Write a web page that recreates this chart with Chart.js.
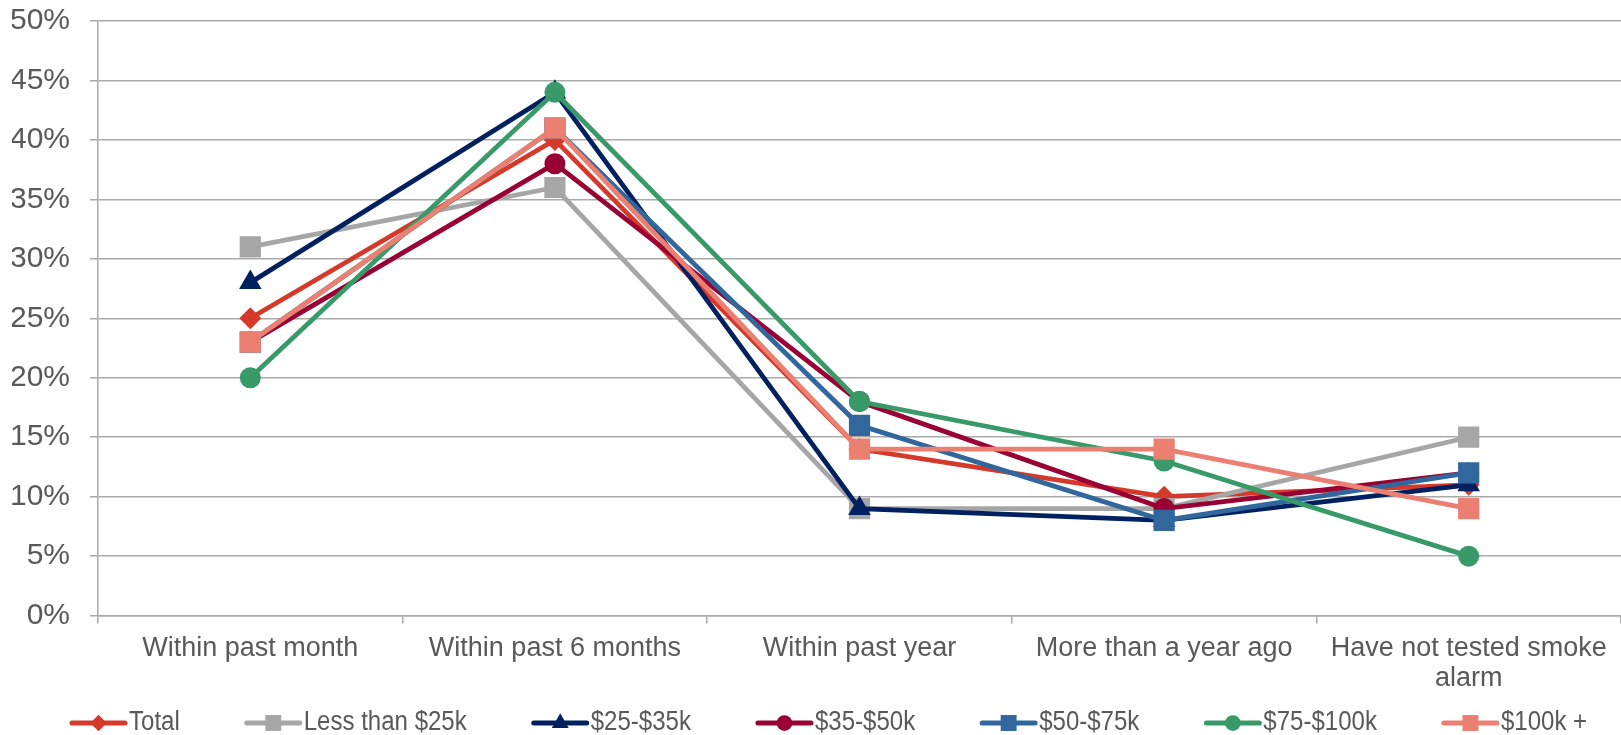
<!DOCTYPE html>
<html lang="en">
<head>
  <meta charset="UTF-8">
  <title>Smoke alarm last tested, by household income</title>
  <script src="https://cdn.jsdelivr.net/npm/chart.js"></script>
  <style>
    html, body { margin: 0; padding: 0; background: #ffffff; }
    canvas { display: block; }
  </style>
</head>
<body>
  <canvas id="smokeChart" width="1621" height="735"></canvas>

  <script>
    // categories and values (percent)
    const categories = ['Within past month', 'Within past 6 months', 'Within past year',
                        'More than a year ago', ['Have not tested smoke', 'alarm']];
    const total       = [25, 40, 14, 10, 11];
    const under25k    = [31, 36, 9, 9, 15];
    const inc25to35k  = [28, 44, 9, 8, 11];
    const inc35to50k  = [23, 38, 18, 9, 12];
    const inc50to75k  = [23, 41, 16, 8, 12];
    const inc75to100k = [20, 44, 18, 13, 5];
    const over100k    = [23, 41, 14, 14, 9];
    const yTicks = [0, 5, 10, 15, 20, 25, 30, 35, 40, 45, 50];

    const series = [
      { label: 'Total',          data: total,       color: '#D5392A', style: 'rectRot',  r: 11 },
      { label: 'Less than $25k', data: under25k,    color: '#A6A6A6', style: 'rect',     r: 15 },
      { label: '$25-$35k',       data: inc25to35k,  color: '#002060', style: 'triangle', r: 13 },
      { label: '$35-$50k',       data: inc35to50k,  color: '#990033', style: 'circle',   r: 10.5 },
      { label: '$50-$75k',       data: inc50to75k,  color: '#31679D', style: 'rect',     r: 15 },
      { label: '$75-$100k',      data: inc75to100k, color: '#389A68', style: 'circle',   r: 10.5 },
      { label: '$100k +',        data: over100k,    color: '#EA7F72', style: 'rect',     r: 15 }
    ];

    const gridGray = '#A9A9A9';
    const textGray = '#595959';

    function drawMarker(ctx, style, x, y, r, color) {
      ctx.fillStyle = color;
      ctx.beginPath();
      if (style === 'circle') {
        ctx.arc(x, y, r, 0, Math.PI * 2);
      } else if (style === 'rect') {
        const h = r * Math.SQRT1_2;
        ctx.rect(x - h, y - h, h * 2, h * 2);
      } else if (style === 'rectRot') {
        ctx.moveTo(x, y - r); ctx.lineTo(x + r, y); ctx.lineTo(x, y + r); ctx.lineTo(x - r, y);
      } else if (style === 'triangle') {
        ctx.moveTo(x, y - r);
        ctx.lineTo(x + r * 0.866, y + r * 0.5);
        ctx.lineTo(x - r * 0.866, y + r * 0.5);
      }
      ctx.closePath();
      ctx.fill();
    }

    // legend with line + marker, like the office chart (text squeezed like a narrow font)
    const lineLegend = {
      id: 'lineLegend',
      afterDraw(chart) {
        const ctx = chart.ctx;
        const lineLen = 57, textGap = 2, itemGap = 65, y = 723, squeeze = 0.89;
        ctx.save();
        ctx.font = '27px "Liberation Sans", Arial, sans-serif';
        ctx.textBaseline = 'middle';
        let x = 70;
        series.forEach(s => {
          ctx.strokeStyle = s.color;
          ctx.lineWidth = 5;
          ctx.lineCap = 'round';
          ctx.beginPath();
          ctx.moveTo(x + 2, y);
          ctx.lineTo(x + lineLen - 2, y);
          ctx.stroke();
          drawMarker(ctx, s.style, x + lineLen / 2, y, s.r * 0.75, s.color);
          const tx = x + lineLen + textGap;
          const w = ctx.measureText(s.label).width * squeeze;
          ctx.save();
          ctx.translate(tx, y);
          ctx.scale(squeeze, 1);
          ctx.fillStyle = textGray;
          ctx.fillText(s.label, 0, 0);
          ctx.restore();
          x = tx + w + itemGap;
        });
        ctx.restore();
      }
    };

    // reversed so the first series is drawn underneath, as in the original
    const datasets = series.slice().reverse().map(s => ({
      label: s.label,
      data: s.data,
      borderColor: s.color,
      backgroundColor: s.color,
      borderWidth: 4.8,
      pointStyle: s.style,
      pointRadius: s.r,
      pointBorderWidth: 0,
      pointHoverRadius: s.r,
      tension: 0
    }));

    new Chart(document.getElementById('smokeChart'), {
      type: 'line',
      data: { labels: categories, datasets: datasets },
      options: {
        responsive: false,
        animation: false,
        layout: { autoPadding: false, padding: { left: 12, right: 0, top: 21, bottom: 32 } },
        plugins: {
          legend: { display: false },
          tooltip: { enabled: false }
        },
        scales: {
          x: {
            offset: true,
            afterFit(axis) { axis.paddingLeft = 0; axis.paddingRight = 0; },
            grid: { display: true, offset: true, drawOnChartArea: false, drawTicks: true,
                    tickLength: 8, color: gridGray, lineWidth: 1.5 },
            border: { display: true, color: gridGray, width: 1.5 },
            ticks: {
              autoSkip: false, maxRotation: 0, minRotation: 0, padding: 10,
              color: textGray,
              font: { family: '"Liberation Sans", Arial, sans-serif', size: 27, lineHeight: 1.1 }
            }
          },
          y: {
            min: 0,
            max: 50,
            afterBuildTicks(axis) { axis.ticks = yTicks.map(v => ({ value: v })); },
            afterFit(axis) { axis.width = 86; axis.paddingTop = 0; axis.paddingBottom = 0; },
            grid: { color: gridGray, lineWidth: 1.5, tickLength: 8, drawTicks: true },
            border: { display: true, color: gridGray, width: 1.5 },
            ticks: {
              padding: 20,
              color: textGray,
              font: { family: '"Liberation Sans", Arial, sans-serif', size: 30 },
              callback: v => v + '%'
            }
          }
        }
      },
      plugins: [lineLegend]
    });
  </script>
</body>
</html>
